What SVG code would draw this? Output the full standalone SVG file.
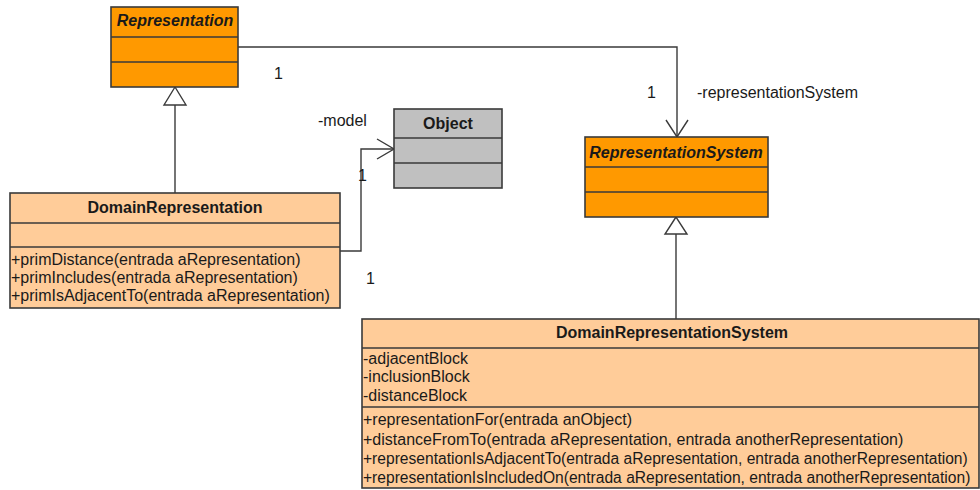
<svg xmlns="http://www.w3.org/2000/svg" width="980" height="490" viewBox="0 0 980 490">
<style>
text{font-family:"Liberation Sans",Arial,sans-serif;font-size:16px;fill:#1a1a1a}
.t{font-weight:bold;text-anchor:middle}
.i{font-style:italic}
.box{stroke:#3a3a3a;stroke-width:1.6}
.sep{stroke:#3a3a3a;stroke-width:1.6}
.dark{fill:#ff9900}
.light{fill:#ffcc99}
.gray{fill:#c0c0c0}
.con{fill:none;stroke:#3a3a3a;stroke-width:1.4}
.gen{fill:#ffffff;stroke:#3a3a3a;stroke-width:1.4}
</style>
<g id="connectors">
  <polyline class="con" points="238,47 677,47 677,137"/>
  <polyline class="con" points="666,120 677,137 688,120"/>
  <polyline class="con" points="340,251 361,251 361,149 394,149"/>
  <polyline class="con" points="377,139 394,149 377,159"/>
  <line class="con" x1="175" y1="105" x2="175" y2="193"/>
  <polygon class="gen" points="175,87 164,105 186,105"/>
  <line class="con" x1="676" y1="234" x2="676" y2="319"/>
  <polygon class="gen" points="676,217 665,234 687,234"/>
  <text x="274" y="79">1</text>
  <text x="647" y="98">1</text>
  <text x="697" y="98">-representationSystem</text>
  <text x="318" y="126">-model</text>
  <text x="358" y="181">1</text>
  <text x="366" y="284">1</text>
</g>
<g id="Representation">
  <rect class="box dark" x="111" y="7" width="127" height="80"/>
  <line class="sep" x1="111" y1="37" x2="238" y2="37"/>
  <line class="sep" x1="111" y1="62" x2="238" y2="62"/>
  <text class="t i" x="175" y="26">Representation</text>
</g>
<g id="Object">
  <rect class="box gray" x="394" y="109" width="108" height="79"/>
  <line class="sep" x1="394" y1="138" x2="502" y2="138"/>
  <line class="sep" x1="394" y1="163" x2="502" y2="163"/>
  <text class="t" x="448" y="129">Object</text>
</g>
<g id="RepresentationSystem">
  <rect class="box dark" x="585" y="137" width="183" height="80"/>
  <line class="sep" x1="585" y1="167" x2="768" y2="167"/>
  <line class="sep" x1="585" y1="192" x2="768" y2="192"/>
  <text class="t i" x="676" y="158">RepresentationSystem</text>
</g>
<g id="DomainRepresentation">
  <rect class="box light" x="10" y="193" width="330" height="115"/>
  <line class="sep" x1="10" y1="223" x2="340" y2="223"/>
  <line class="sep" x1="10" y1="247" x2="340" y2="247"/>
  <text class="t" x="175" y="213">DomainRepresentation</text>
  <text x="11" y="265">+primDistance(entrada aRepresentation)</text>
  <text x="11" y="283">+primIncludes(entrada aRepresentation)</text>
  <text x="11" y="301">+primIsAdjacentTo(entrada aRepresentation)</text>
</g>
<g id="DomainRepresentationSystem">
  <rect class="box light" x="362" y="319" width="617" height="169"/>
  <line class="sep" x1="362" y1="348" x2="979" y2="348"/>
  <line class="sep" x1="362" y1="407" x2="979" y2="407"/>
  <text class="t" x="672" y="338">DomainRepresentationSystem</text>
  <text x="363" y="364">-adjacentBlock</text>
  <text x="363" y="382">-inclusionBlock</text>
  <text x="363" y="401">-distanceBlock</text>
  <text x="363" y="425">+representationFor(entrada anObject)</text>
  <text x="363" y="445">+distanceFromTo(entrada aRepresentation, entrada anotherRepresentation)</text>
  <text transform="translate(363,464) scale(0.975,1)">+representationIsAdjacentTo(entrada aRepresentation, entrada anotherRepresentation)</text>
  <text transform="translate(363,483) scale(0.975,1)">+representationIsIncludedOn(entrada aRepresentation, entrada anotherRepresentation)</text>
</g>
</svg>
